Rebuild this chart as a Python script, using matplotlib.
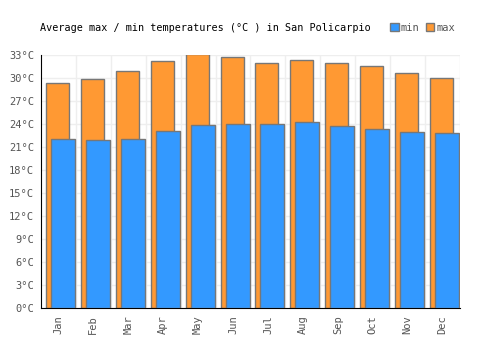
import numpy as np
import matplotlib
matplotlib.use("Agg")
import matplotlib.pyplot as plt
from matplotlib.patches import Patch

months = ["Jan", "Feb", "Mar", "Apr", "May", "Jun",
          "Jul", "Aug", "Sep", "Oct", "Nov", "Dec"]
temp_max = [29.4, 29.8, 30.9, 32.2, 33.1, 32.7, 32.0, 32.4, 32.0, 31.5, 30.6, 30.0]
temp_min = [22.1, 21.9, 22.1, 23.1, 23.9, 24.0, 24.0, 24.2, 23.7, 23.4, 23.0, 22.8]
y_ticks = list(range(0, 34, 3))

plt.rcParams['font.family'] = ['DejaVu Sans Mono']

fig = plt.figure(figsize=(5, 3.5), dpi=100)
ax = fig.add_axes([0.082, 0.12, 0.838, 0.723])

x = np.arange(len(months))
ax.bar(x - 0.5 + 5 / 35, temp_max, width=23 / 35, align='edge',
       color='#ff9933', edgecolor='#777777', linewidth=1, zorder=2)
ax.bar(x - 0.5 + 10 / 35, temp_min, width=24 / 35, align='edge',
       color='#3399ff', edgecolor='#777777', linewidth=1, zorder=3)

ax.set_xlim(-0.5, len(months) - 0.5)
ax.set_ylim(0, 33)
ax.set_yticks(y_ticks)
ax.set_yticklabels([f"{t}°C" for t in y_ticks])
ax.set_xticks(x)
ax.set_xticklabels(months)
ax.set_xticks(x + 0.5, minor=True)

ax.grid(True, axis='y', color='#eeeeee', linewidth=1, zorder=0)
ax.grid(True, axis='x', which='minor', color='#eeeeee', linewidth=1, zorder=0)
ax.set_axisbelow(True)

ax.tick_params(axis='both', which='major', length=0, labelsize=7.5,
               labelcolor='#555555', pad=5)
ax.tick_params(axis='x', which='major', labelrotation=90)
ax.tick_params(axis='x', which='minor', length=0)
for s in ['top', 'right']:
    ax.spines[s].set_visible(False)
ax.spines['left'].set_color('black')
ax.spines['bottom'].set_color('black')

fig.text(0.079, 0.92, "Average max / min temperatures (°C ) in San Policarpio",
         fontsize=7.3, color='black', va='center')
handles = [Patch(facecolor='#3399ff', edgecolor='#777777', label='min'),
           Patch(facecolor='#ff9933', edgecolor='#777777', label='max')]
leg = fig.legend(handles=handles, loc='center', bbox_to_anchor=(0.845, 0.92),
                 ncol=2, frameon=False, fontsize=7.5, handlelength=0.8,
                 handleheight=0.8, handletextpad=0.2, columnspacing=0.6,
                 borderpad=0)
for t in leg.get_texts():
    t.set_color('#555555')

fig.savefig("out.png", dpi=100)
